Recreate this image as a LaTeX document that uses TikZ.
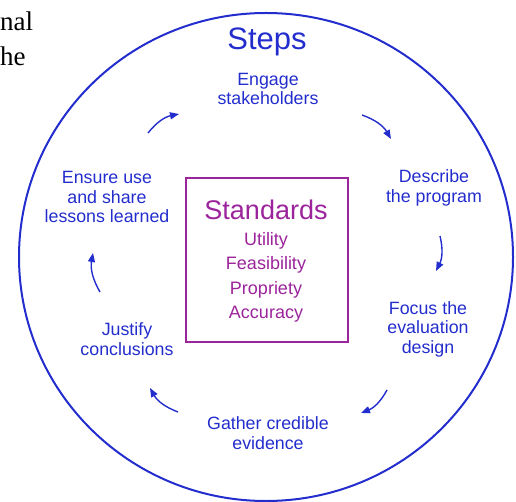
\documentclass[tikz,border=0pt]{standalone}
\usepackage{fontspec}
\setmainfont{Liberation Sans}
\newfontfamily\docserif{Liberation Serif}
\usetikzlibrary{arrows.meta}
\definecolor{stepblue}{RGB}{35,45,205}
\definecolor{stdpurple}{RGB}{155,35,155}
\begin{document}
\begin{tikzpicture}[x=1pt, y=-1pt,
    every node/.append style={align=center, inner sep=0pt, text=stepblue,
      font=\fontsize{17.8}{19.5}\selectfont},
    cyclearrow/.style={draw=stepblue, line width=1.4pt,
      -{Triangle[length=9pt, width=7pt]}},
    stdtext/.style={text=stdpurple}]
    \useasboundingbox (0,0) rectangle (516,502);

    \node[anchor=base west, text=black, font=\docserif\fontsize{27}{30}\selectfont] (cut1) at (0,31) {nal};
    \node[anchor=base west, text=black, font=\docserif\fontsize{27}{30}\selectfont] (cut2) at (0,66) {he};

    \draw[stepblue, line width=2pt] (266,257) ellipse [x radius=247, y radius=244];

    \node[font=\fontsize{31}{34}\selectfont] (steps) at (267,42) {Steps};
    \node (engage) at (268,89) {Engage\\stakeholders};
    \node (describe) at (434,188) {Describe\\the program};
    \node (focus) at (428,329) {Focus the\\evaluation\\design};
    \node (gather) at (268,433) {Gather credible\\evidence};
    \node (justify) at (127,339) {Justify\\conclusions};
    \node (ensure) at (107,197) {Ensure use\\and share\\lessons learned};

    \node[draw=stdpurple, line width=2pt, minimum width=162, minimum height=164] (box) at (267,260) {};
    \node[stdtext, font=\fontsize{27}{30}\selectfont] (standards) at (266,210) {Standards};
    \node[stdtext, font=\fontsize{18}{24.5}\selectfont] (list) at (266,277.5) {Utility\\Feasibility\\Propriety\\Accuracy};

    \coordinate (tl1) at (148,133);
    \coordinate (tl2) at (179,114);
    \coordinate (tr1) at (362,115);
    \coordinate (tr2) at (391,139);
    \coordinate (r1) at (440,236);
    \coordinate (r2) at (436,271);
    \coordinate (br1) at (387,390);
    \coordinate (br2) at (361,413);
    \coordinate (bl1) at (178,412);
    \coordinate (bl2) at (150,388);
    \coordinate (l1) at (100,292);
    \coordinate (l2) at (93,253);

    \draw[cyclearrow] (tl1) to[bend left=20] (tl2);
    \draw[cyclearrow] (tr1) to[bend left=20] (tr2);
    \draw[cyclearrow] (r1) to[bend left=20] (r2);
    \draw[cyclearrow] (br1) to[bend left=20] (br2);
    \draw[cyclearrow] (bl1) to[bend left=20] (bl2);
    \draw[cyclearrow] (l1) to[bend left=20] (l2);
\end{tikzpicture}
\end{document}
